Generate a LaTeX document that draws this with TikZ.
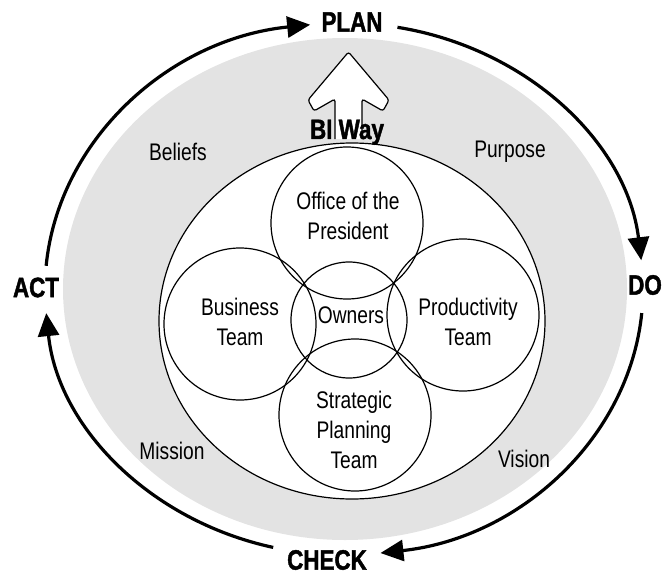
\documentclass[tikz,border=0pt]{standalone}
\usepackage{fontspec}
\setmainfont{Liberation Sans}
\newfontfamily\condlight{Liberation Sans}[FakeStretch=0.8]
\newfontfamily\condheavy{Liberation Sans}[FakeStretch=0.8, BoldFeatures={FakeBold=1.5}]
\usepackage{tikz}
\usetikzlibrary{arrows.meta}
\definecolor{ringgray}{RGB}{227,227,227}

\begin{document}
\begin{tikzpicture}[
        x=1pt, y=1pt,
        team/.style={circle, draw, line width=1.2pt, inner sep=0pt, minimum size=152pt},
        lbl/.style={font=\condlight\fontsize{24}{30}\selectfont, align=center, inner sep=0pt},
        stage/.style={font=\condheavy\bfseries\fontsize{28}{30}\selectfont, inner sep=0pt},
        cyc/.style={line width=3.2pt, -{Triangle[length=23pt, width=21pt]}}
    ]
    \useasboundingbox (0,0) rectangle (663,-575);

    % shaded ring and inner field
    \fill[ringgray] (345,-289) ellipse[x radius=282, y radius=251];
    \draw[line width=1.2pt, fill=white] (352,-321) ellipse[x radius=193, y radius=178];

    % hollow arrow
    \draw[line width=1.2pt, fill=white, rounded corners=2.5pt]
        (335,-139) -- (335,-99) -- (314,-111) -- (308,-100) -- (348.5,-52)
        -- (389,-100) -- (383,-111) -- (362,-99) -- (362,-139);
    \node[stage, anchor=base] (biway) at (347,-139) {BI Way};

    % teams
    \node[team] (office) at (347,-223) {};
    \node[team] (business) at (240,-324) {};
    \node[team, minimum size=116pt] (owners) at (349,-320) {};
    \node[team] (productivity) at (463,-315) {};
    \node[team] (strategic) at (355,-415) {};

    \node[lbl] (officetxt) at (348,-216) {Office of the\\President};
    \node[lbl] (businesstxt) at (240,-322) {Business\\Team};
    \node[lbl, anchor=base] (ownerstxt) at (351,-323) {Owners};
    \node[lbl] (productivitytxt) at (468,-322) {Productivity\\Team};
    \node[lbl] (strategictxt) at (354,-430) {Strategic\\Planning\\Team};

    % ring words
    \node[lbl, anchor=base] (beliefs) at (178,-160) {Beliefs};
    \node[lbl, anchor=base] (purpose) at (510,-157) {Purpose};
    \node[lbl, anchor=base] (mission) at (172,-459) {Mission};
    \node[lbl, anchor=base] (vision) at (524,-467) {Vision};

    % cycle
    \node[stage] (plan) at (352,-22) {PLAN};
    \node[stage, anchor=east] (do) at (662,-285) {DO};
    \node[stage] (check) at (327,-560) {CHECK};
    \node[stage] (act) at (36,-287.5) {ACT};

    \coordinate (ringc) at (344,-289);
    \draw[cyc] (ringc) ++(175:299 and 266) arc[start angle=175, end angle=96.5, x radius=299, y radius=266];
    \draw[cyc] (ringc) ++(79.7:299 and 266) arc[start angle=79.7, end angle=6.2, x radius=299, y radius=266];
    \draw[cyc] (ringc) ++(-5.2:299 and 266) arc[start angle=-5.2, end angle=-83, x radius=299, y radius=266];
    \draw[cyc] (ringc) ++(-103.7:299 and 266) arc[start angle=-103.7, end angle=-174.8, x radius=299, y radius=266];

\end{tikzpicture}
\end{document}
